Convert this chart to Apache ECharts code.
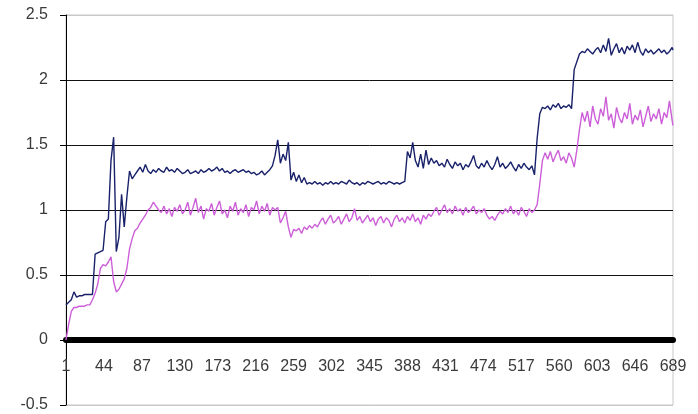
<!DOCTYPE html>
<html>
<head>
<meta charset="utf-8">
<script src="https://cdn.jsdelivr.net/npm/echarts@6/dist/echarts.min.js"></script>
<style>
html,body{margin:0;padding:0;background:#fff;}
#chart{width:698px;height:414px;}
</style>
</head>
<body>
<div id="chart"></div>
<script>
// Category labels 1..689; samples are read every 3rd category (last one at 689)
const categoryCount = 689;
const sampleStep = 3;
const yTicks = [-0.5, 0, 0.5, 1, 1.5, 2, 2.5];

const navySeries = [
  0.27,0.29,0.31,0.37,0.33,0.34,0.34,0.35,0.35,0.35,0.35,0.66,0.67,0.68,0.69,0.91,0.93,1.38,1.56,0.68,0.79,1.12,0.87,1.10,1.30,1.24,1.27,1.30,1.33,1.29,1.35,
  1.30,1.28,1.31,1.29,1.32,1.30,1.29,1.33,1.30,1.31,
  1.29,1.32,1.30,1.28,1.29,1.31,1.28,1.29,1.30,1.28,
  1.31,1.29,1.30,1.32,1.30,1.31,1.33,1.30,1.32,1.29,
  1.30,1.28,1.30,1.31,1.29,1.30,1.31,1.29,1.30,1.28,
  1.29,1.27,1.28,1.30,1.27,1.29,1.31,
  1.34,1.42,1.54,1.36,1.43,1.38,1.52,1.23,1.29,1.22,1.27,1.21,1.25,1.20,
  1.21,1.20,1.22,1.20,1.21,1.19,1.21,1.20,1.22,1.20,1.21,1.20,1.22,1.21,1.20,1.23,1.21,1.20,
  1.21,1.19,1.21,1.20,1.22,1.21,1.20,1.21,1.22,1.20,1.21,1.20,1.22,1.21,1.20,1.21,1.20,1.21,
  1.22,1.45,1.40,1.52,1.38,1.33,1.43,1.32,1.46,1.35,1.40,1.36,
  1.38,1.34,1.36,1.33,1.39,1.35,1.32,1.37,1.34,1.36,1.31,1.35,1.33,1.37,1.42,1.34,1.32,1.36,1.33,
  1.38,1.34,1.31,1.35,1.41,1.33,1.36,1.32,1.34,1.37,1.33,1.30,1.35,1.32,1.36,1.33,1.31,1.34,
  1.27,1.55,1.74,1.79,
  1.78,1.80,1.77,1.81,1.79,1.82,1.78,1.80,1.79,1.81,1.78,
  2.08,2.14,2.20,2.22,
  2.21,2.24,2.22,2.20,2.23,2.25,2.21,2.27,2.22,2.32,2.19,2.24,2.28,2.21,2.25,2.20,2.26,2.23,
  2.27,2.21,2.29,2.22,2.19,2.24,2.21,2.23,2.20,2.22,2.24,2.21,2.23,2.20,2.22,2.25,2.23
];

const magentaSeries = [
  0.00,0.12,0.22,0.25,0.25,0.26,0.26,0.26,0.27,0.27,0.31,0.36,0.43,0.55,0.58,0.57,0.60,0.64,
  0.45,0.37,0.39,0.43,0.47,0.55,0.70,0.78,0.84,0.86,0.90,0.93,0.96,1.00,1.02,1.06,1.03,1.00,
  0.98,1.03,0.97,1.01,0.95,1.02,0.99,1.04,0.97,1.00,1.06,0.96,1.02,1.09,0.98,1.03,0.93,1.01,0.99,1.05,
  0.96,1.02,1.07,0.97,1.00,0.94,1.03,0.99,1.06,0.96,1.01,0.98,1.04,0.95,1.02,1.00,1.07,0.97,1.03,0.99,
  1.05,0.96,1.02,1.00,
  1.02,0.90,0.94,0.99,0.87,0.79,0.85,0.84,0.86,0.82,0.87,0.85,0.88,0.86,0.89,0.87,
  0.91,0.94,0.89,0.93,0.96,0.90,0.92,0.95,0.89,0.93,0.97,0.91,0.94,1.01,0.92,0.95,0.90,0.93,0.96,0.91,
  0.94,0.88,0.93,0.95,0.90,0.94,0.92,0.87,0.93,0.96,0.91,0.94,0.90,0.95,0.92,0.97,0.91,0.94,0.89,0.96,
  0.93,0.97,
  0.95,0.99,1.02,0.96,1.00,1.04,0.98,1.01,0.97,1.03,0.99,1.01,0.96,1.02,0.98,1.00,1.03,0.97,1.00,0.98,
  1.01,0.96,0.93,0.95,0.92,0.96,0.99,0.97,1.01,0.98,1.03,0.97,1.00,0.96,1.02,0.99,0.95,1.01,0.98,1.00,
  1.04,1.20,1.38,1.44,
  1.39,1.45,1.37,1.42,1.46,1.38,1.41,1.36,1.44,1.40,1.33,
  1.46,1.62,1.75,
  1.68,1.76,1.64,1.80,1.70,1.66,1.78,1.72,1.87,1.69,1.74,1.63,1.79,1.71,1.67,1.75,1.70,1.82,
  1.66,1.73,1.69,1.77,1.64,1.72,1.80,1.68,1.74,1.70,1.78,1.66,1.75,1.71,1.84,1.69,1.65
];

const categories = [];
for (let c = 1; c <= categoryCount; c++) categories.push(String(c));

function toPairs(values) {
  return values.map((v, i) => [categories[Math.min(i * sampleStep, categoryCount - 1)], v]);
}

const gridTop = 15, gridBottom = 9, chartHeight = 414;
const plotHeight = chartHeight - gridTop - gridBottom;
const yMin = yTicks[0], yMax = yTicks[yTicks.length - 1];
// move the x axis (line + labels) up to the value 0
const zeroOffset = -plotHeight * (0 - yMin) / (yMax - yMin);

const chart = echarts.init(document.getElementById('chart'), null, {renderer: 'canvas'});
chart.setOption({
  animation: false,
  backgroundColor: '#ffffff',
  grid: {
    left: 66, right: 25, top: gridTop, bottom: gridBottom,
    containLabel: false, outerBoundsMode: 'none',
    show: true, borderColor: '#c8c8c8', borderWidth: 1, backgroundColor: 'transparent'
  },
  xAxis: {
    type: 'category',
    data: categories,
    boundaryGap: false,
    position: 'bottom',
    offset: zeroOffset,
    axisLine: {onZero: false, lineStyle: {color: '#000', width: 6}},
    axisTick: {show: false},
    axisLabel: {
      interval: 42, margin: 19, color: '#3a3a3a', fontSize: 16,
      fontFamily: 'Liberation Sans, Arial, sans-serif'
    },
    splitLine: {show: false}
  },
  yAxis: {
    type: 'value',
    min: yMin, max: yMax, interval: 0.5,
    axisLine: {show: true, onZero: false, lineStyle: {color: '#000', width: 1}},
    axisTick: {show: true, length: 6, lineStyle: {color: '#000'}},
    axisLabel: {
      margin: 18, color: '#3a3a3a', fontSize: 16,
      fontFamily: 'Liberation Sans, Arial, sans-serif'
    },
    splitLine: {
      show: true,
      lineStyle: {color: ['#c8c8c8', '#111', '#111', '#111', '#111', '#111', '#c8c8c8'], width: 1}
    }
  },
  series: [
    {
      type: 'line', data: toPairs(navySeries), showSymbol: false, symbol: 'none',
      lineStyle: {color: '#18216a', width: 1.4}, z: 3
    },
    {
      type: 'line', data: toPairs(magentaSeries), showSymbol: false, symbol: 'none',
      lineStyle: {color: '#cc5fd8', width: 1.4}, z: 2
    }
  ]
});
</script>
</body>
</html>
